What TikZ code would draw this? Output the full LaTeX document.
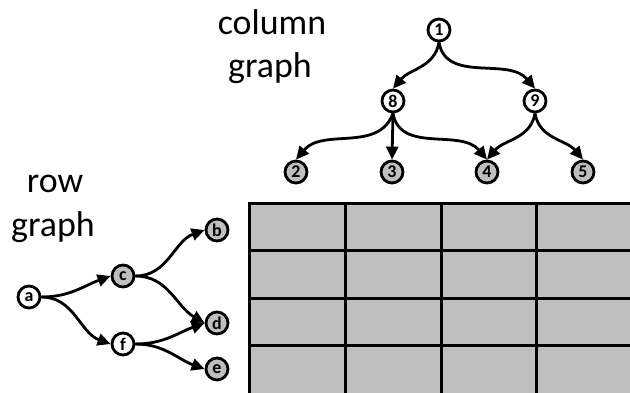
\documentclass[tikz,border=0pt]{standalone}
\usepackage{fontspec}
\setmainfont{Carlito}
\usetikzlibrary{arrows.meta}
\definecolor{cellgray}{HTML}{BFBFBF}
\begin{document}
\begin{tikzpicture}[x=1bp,y=-1bp,
  vtx/.style={circle,draw,line width=2.8bp,minimum size=22bp,inner sep=0pt,font=\fontsize{18}{18}\selectfont\bfseries},
  wv/.style={vtx,fill=white},
  gv/.style={vtx,fill=cellgray},
  edge/.style={line width=2.8bp,-{Triangle[length=13bp,width=12bp]}},
  lbl/.style={font=\fontsize{36}{36}\selectfont,anchor=base,inner sep=0pt},
  gridline/.style={line width=3bp}]
\useasboundingbox (0,0) rectangle (630,392);
\clip (0,0) rectangle (630,392);
% grid
\fill[cellgray] (249,203) rectangle (640,400);
\draw[gridline] (249,400) -- (249,203) -- (640,203);
\foreach \x in {345,441,536} \draw[gridline] (\x,203) -- (\x,400);
\foreach \y in {250,298,345} \draw[gridline] (249,\y) -- (640,\y);
% labels
\node[lbl] (colA) at (272,34) {column};
\node[lbl] (colB) at (270,77) {graph};
\node[lbl] (rowA) at (55,192) {row};
\node[lbl] (rowB) at (53,236) {graph};
% column graph
\node[wv] (n1) at (439,30) {1};
\node[wv] (n8) at (393,101) {8};
\node[wv] (n9) at (535,101) {9};
\node[gv] (n2) at (296,172) {2};
\node[gv] (n3) at (392,172) {3};
\node[gv] (n4) at (487,172) {4};
\node[gv] (n5) at (583,172) {5};
\draw[edge] (n1.south) to[out=-100,in=50] (n8.north);
\draw[edge] (n1.south) to[out=-80,in=130] (n9.north);
\draw[edge] (n8.south) to[out=-110,in=50] (n2.north);
\draw[edge] (n8.south) -- (n3.north);
\draw[edge] (n8.south) to[out=-80,in=130] (n4.north);
\draw[edge] (n9.south) to[out=-100,in=50] (n4.north);
\draw[edge] (n9.south) to[out=-80,in=130] (n5.north);
% row graph
\node[wv] (na) at (29,297) {a};
\node[gv] (nc) at (123,276) {c};
\node[wv] (nf) at (123,344) {f};
\node[gv] (nb) at (217,230) {b};
\node[gv] (nd) at (217,323) {d};
\node[gv] (ne) at (217,369) {e};
\draw[edge] (na.east) to[out=0,in=200] (nc.west);
\draw[edge] (na.east) to[out=0,in=160] (nf.west);
\draw[edge] (nc.east) to[out=0,in=200] (nb.west);
\draw[edge] (nc.east) to[out=0,in=150] (nd.west);
\draw[edge] (nf.east) to[out=0,in=200] (nd.west);
\draw[edge] (nf.east) to[out=0,in=160] (ne.west);
\end{tikzpicture}
\end{document}
